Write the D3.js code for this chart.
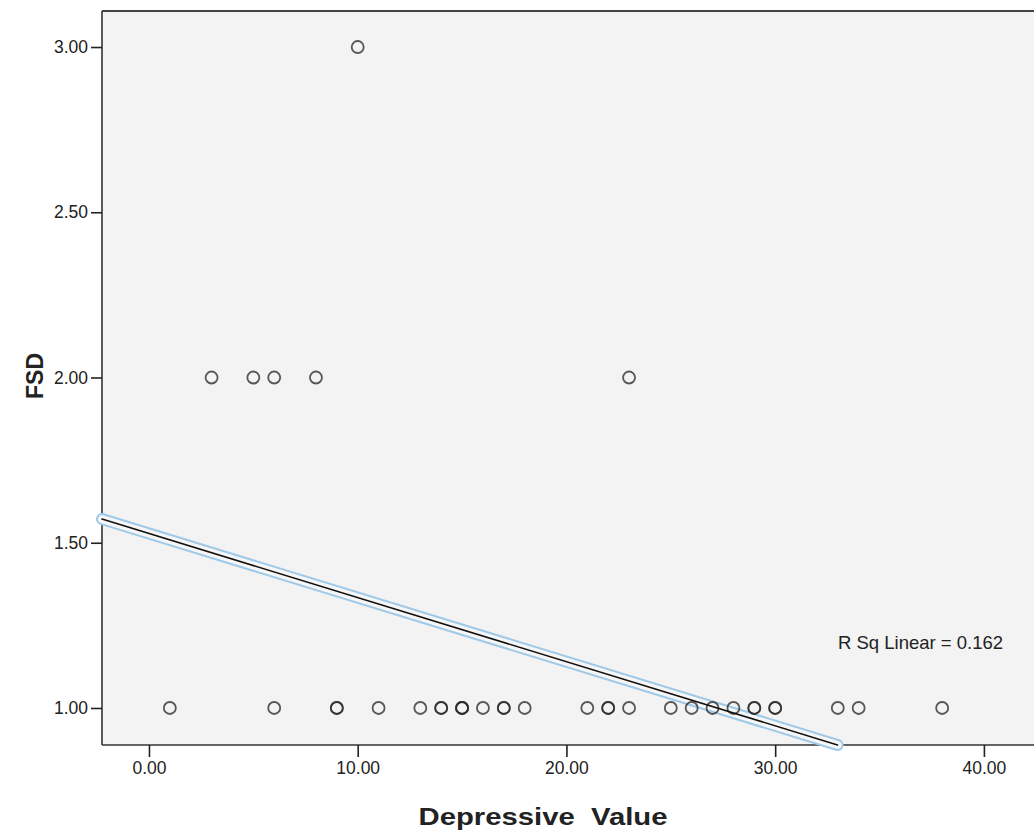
<!DOCTYPE html>
<html>
<head>
<meta charset="utf-8">
<script src="https://cdn.jsdelivr.net/npm/d3@7"></script>
<style>
  body { margin: 0; background: #fff; }
  text { font-family: "Liberation Sans", Arial, sans-serif; }
</style>
</head>
<body>
<div id="grafico"></div>
<script>
// puntos (x = Depressive Value, y = FSD), repetidos donde el circulo se ve mas oscuro
const puntosX = [1, 6, 9, 9, 11, 13, 14, 14, 15, 15, 15, 16, 17, 17, 18, 21, 22, 22, 23, 25, 26, 27, 28, 29, 29, 30, 30, 33, 34, 38,
                 3, 5, 6, 8, 23, 10];
const puntosY = [1, 1, 1, 1, 1, 1, 1, 1, 1, 1, 1, 1, 1, 1, 1, 1, 1, 1, 1, 1, 1, 1, 1, 1, 1, 1, 1, 1, 1, 1,
                 2, 2, 2, 2, 2, 3];
const ticksX = [0, 10, 20, 30, 40];
const ticksY = [1.0, 1.5, 2.0, 2.5, 3.0];
// recta de ajuste
const ajuste = { intercepto: 1.528, pendiente: -0.0194, r2: 0.162 };

const width = 1034;
const height = 832;
const margin = { top: 11, right: 0, bottom: 87, left: 102 };

const x = d3.scaleLinear().domain([-2.25, 42.4]).range([margin.left, width - margin.right]);
const y = d3.scaleLinear().domain([0.888, 3.109]).range([height - margin.bottom, margin.top]);

const svg = d3.select("#grafico")
  .append("svg")
  .attr("width", width)
  .attr("height", height);

// fondo del area de datos
svg.append("rect")
  .attr("x", margin.left)
  .attr("y", margin.top)
  .attr("width", width - margin.left - margin.right)
  .attr("height", height - margin.top - margin.bottom)
  .attr("fill", "#f3f3f3");

// borde superior
svg.append("line")
  .attr("x1", margin.left).attr("x2", width)
  .attr("y1", margin.top).attr("y2", margin.top)
  .attr("stroke", "#444").attr("stroke-width", 2);

// ejes
const ejeX = svg.append("g")
  .attr("transform", `translate(0, ${height - margin.bottom})`)
  .call(d3.axisBottom(x).tickValues(ticksX).tickSize(12).tickSizeOuter(0).tickPadding(5)
    .tickFormat(d3.format(".2f")));

const ejeY = svg.append("g")
  .attr("transform", `translate(${margin.left}, 0)`)
  .call(d3.axisLeft(y).tickValues(ticksY).tickSize(11).tickSizeOuter(0).tickPadding(3)
    .tickFormat(d3.format(".2f")));

[ejeX, ejeY].forEach((g) => {
  g.attr("font-size", 17.5);
  g.select(".domain").attr("stroke", "#333").attr("stroke-width", 1.6);
  g.selectAll(".tick line").attr("stroke", "#222").attr("stroke-width", 1.6);
  g.selectAll(".tick text")
    .attr("fill", "#222")
    .style("font-size", "17.5px")
    .style("font-family", "'Liberation Sans', Arial, sans-serif");
});
ejeY.select(".domain").attr("d", `M0,${y.range()[0]}V${y.range()[1]}`);
ejeX.select(".domain").attr("d", `M${x.range()[0]},0H${x.range()[1]}`);

// recta de regresion
const x0 = x.domain()[0];
const x1 = (y.domain()[0] - ajuste.intercepto) / ajuste.pendiente;
const recta = [
  [x(x0), y(ajuste.intercepto + ajuste.pendiente * x0)],
  [x(x1), y(ajuste.intercepto + ajuste.pendiente * x1)]
];
const linea = d3.line();

svg.append("path").attr("d", linea(recta))
  .attr("stroke", "#9fc9e8").attr("stroke-width", 12)
  .attr("stroke-linecap", "round").attr("fill", "none");
svg.append("path").attr("d", linea(recta))
  .attr("stroke", "#f6f6f6").attr("stroke-width", 8)
  .attr("stroke-linecap", "round").attr("fill", "none");

// circulos
const datos = puntosX.map((v, i) => ({ x: v, y: puntosY[i] }));
svg.append("g")
  .selectAll("circle")
  .data(datos)
  .join("circle")
  .attr("cx", (d) => x(d.x))
  .attr("cy", (d) => y(d.y))
  .attr("r", 6)
  .attr("fill", "none")
  .attr("stroke", "#2a2a2a")
  .attr("stroke-opacity", 0.78)
  .attr("stroke-width", 1.8);

svg.append("path").attr("d", linea(recta))
  .attr("stroke", "#111").attr("stroke-width", 1.5)
  .attr("stroke-linecap", "round").attr("fill", "none");

// texto R2
svg.append("text")
  .attr("x", 838)
  .attr("y", 649)
  .attr("fill", "#222")
  .attr("textLength", 165)
  .attr("lengthAdjust", "spacingAndGlyphs")
  .style("font-size", "18.5px")
  .text(`R Sq Linear = ${ajuste.r2}`);

// titulos
svg.append("text")
  .attr("x", 543)
  .attr("y", 825)
  .attr("text-anchor", "middle")
  .attr("fill", "#222")
  .attr("textLength", 249)
  .attr("lengthAdjust", "spacingAndGlyphs")
  .style("font-size", "24px")
  .style("font-weight", "bold")
  .style("white-space", "pre")
  .text("Depressive  Value");

svg.append("text")
  .attr("transform", "translate(43, 376) rotate(-90)")
  .attr("text-anchor", "middle")
  .attr("fill", "#222")
  .style("font-size", "23px")
  .style("font-weight", "bold")
  .text("FSD");
</script>
</body>
</html>
